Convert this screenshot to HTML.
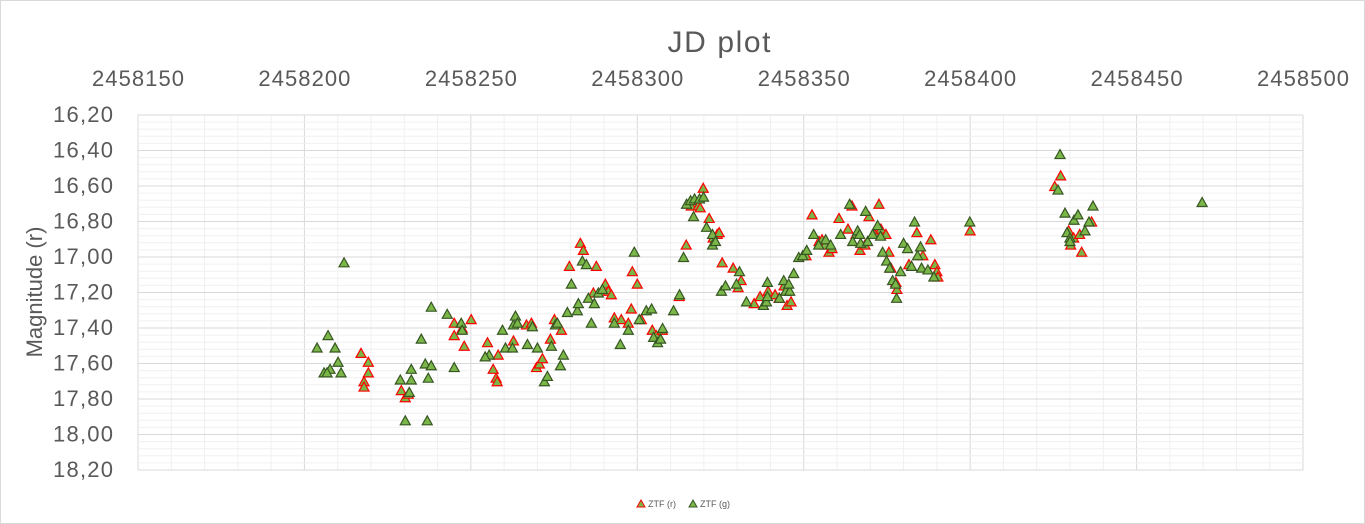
<!DOCTYPE html>
<html><head><meta charset="utf-8"><style>
body{margin:0;background:#fff;}
svg{display:block;font-family:"Liberation Sans",sans-serif;}
</style></head><body>
<svg id="chart" width="1365" height="524">
<rect x="0.5" y="0.5" width="1364" height="523" fill="#fff" stroke="#d9d9d9"/>
<text x="719" y="52" text-anchor="middle" font-size="30" textLength="103" fill="#595959">JD plot</text>
<text transform="translate(42,292) rotate(-90)" text-anchor="middle" font-size="22" fill="#595959">Magnitude (r)</text>
<g id="grid"></g><g id="xt"></g><g id="yt"></g><g id="marks"></g>
<g>
<polygon points="637,507 641,500 645,507" fill="#7ab648" stroke="#ff0000" stroke-width="1"/>
<text x="648" y="507" font-size="9" fill="#595959">ZTF (r)</text>
<polygon points="689,507 693,500 697,507" fill="#7ab648" stroke="#375623" stroke-width="1"/>
<text x="700" y="507" font-size="9" fill="#595959">ZTF (g)</text>
</g>
</svg>
<script>
const xTicks=[2458150,2458200,2458250,2458300,2458350,2458400,2458450,2458500];
const yTicks=["16,20","16,40","16,60","16,80","17,00","17,20","17,40","17,60","17,80","18,00","18,20"];
const rDays=[217.0,217.9,217.9,219.2,219.2,229.1,230.3,231.2,245.0,245.0,247.4,248.0,250.1,255.0,256.7,257.6,257.9,258.2,262.8,266.7,268.2,269.7,270.6,271.5,273.9,275.1,277.2,279.6,282.9,283.8,286.8,287.7,290.4,291.3,292.2,293.1,295.2,297.3,298.2,298.5,300.0,301.2,304.5,305.7,307.5,312.6,314.7,316.2,318.3,319.8,318.9,321.6,322.8,324.0,324.6,325.5,328.8,330.3,331.2,335.1,336.9,339.3,341.4,342.6,344.1,345.0,346.2,350.7,352.5,354.6,355.5,356.4,357.6,358.5,360.6,363.3,364.5,365.7,366.9,368.4,369.6,371.4,372.6,373.2,374.7,375.6,376.2,377.7,378.0,381.6,384.0,385.8,388.2,389.4,390.0,390.3,400.0,425.4,427.2,429.6,430.2,431.1,432.9,433.5,436.5];
const rMag=[17.54,17.70,17.73,17.59,17.65,17.75,17.79,17.77,17.37,17.44,17.40,17.50,17.35,17.48,17.63,17.68,17.70,17.55,17.47,17.38,17.37,17.62,17.60,17.57,17.46,17.35,17.41,17.05,16.92,16.96,17.20,17.05,17.15,17.19,17.21,17.34,17.35,17.37,17.29,17.08,17.15,17.35,17.41,17.44,17.41,17.22,16.93,16.71,16.71,16.61,16.72,16.78,16.89,16.87,16.86,17.03,17.06,17.17,17.13,17.26,17.22,17.19,17.21,17.23,17.16,17.27,17.25,16.99,16.76,16.91,16.90,16.93,16.97,16.95,16.78,16.84,16.71,16.87,16.96,16.93,16.77,16.87,16.70,16.84,16.87,16.97,17.06,17.14,17.18,17.04,16.86,16.99,16.90,17.04,17.08,17.11,16.85,16.60,16.54,16.85,16.93,16.89,16.87,16.97,16.80];
const gDays=[203.8,205.9,207.1,207.7,206.8,209.2,210.1,211.0,211.9,228.8,230.3,232.1,232.1,231.5,235.1,236.3,237.2,236.9,238.1,238.1,242.9,245.0,247.1,247.4,255.5,254.3,259.5,260.4,262.5,262.8,263.4,264.0,267.0,268.5,270.0,272.1,273.0,274.2,275.4,276.0,276.9,277.8,279.0,280.2,282.0,282.3,283.5,284.7,285.3,286.2,287.1,288.3,289.5,293.1,294.9,297.3,299.1,300.6,302.7,304.3,304.9,306.1,307.0,307.6,310.9,312.7,313.9,314.8,316.0,316.9,317.2,318.7,319.9,320.8,322.6,322.6,323.5,325.3,326.5,329.8,330.7,332.8,337.9,338.8,339.1,339.1,342.7,344.0,344.6,345.8,345.5,347.0,348.5,349.7,350.9,353.0,354.5,356.6,358.1,361.1,363.8,364.7,366.2,366.8,367.1,368.6,369.2,370.7,372.2,373.1,373.7,374.9,375.8,376.7,377.6,377.9,379.1,380.0,381.2,382.4,383.3,384.2,385.1,385.4,387.3,389.1,399.9,427.0,426.4,428.5,429.1,430.0,430.0,431.2,432.4,434.5,435.7,436.9,469.7];
const gMag=[17.51,17.65,17.44,17.63,17.65,17.51,17.59,17.65,17.03,17.69,17.92,17.69,17.63,17.76,17.46,17.60,17.68,17.92,17.28,17.61,17.32,17.62,17.37,17.41,17.55,17.56,17.41,17.51,17.51,17.38,17.33,17.37,17.49,17.39,17.51,17.70,17.67,17.50,17.38,17.37,17.61,17.55,17.31,17.15,17.30,17.26,17.02,17.04,17.23,17.37,17.26,17.20,17.18,17.37,17.49,17.41,16.97,17.35,17.30,17.29,17.45,17.48,17.46,17.40,17.30,17.21,17.00,16.70,16.68,16.77,16.67,16.67,16.66,16.83,16.93,16.87,16.91,17.19,17.16,17.15,17.08,17.25,17.27,17.25,17.22,17.14,17.23,17.13,17.19,17.19,17.15,17.09,17.00,16.99,16.96,16.87,16.93,16.90,16.93,16.87,16.70,16.91,16.85,16.87,16.92,16.74,16.91,16.87,16.82,16.88,16.97,17.02,17.06,17.13,17.15,17.23,17.08,16.92,16.95,17.05,16.80,16.99,16.94,17.06,17.07,17.11,16.80,16.42,16.62,16.75,16.86,16.89,16.91,16.79,16.76,16.85,16.80,16.71,16.69];

const L=138,R=1303,T=115,B=470;
const xMin=2458150,xMax=2458500,yMin=16.2,yMax=18.2;
const X=v=>L+(v-xMin)/(xMax-xMin)*(R-L);
const Y=v=>T+(v-yMin)/(yMax-yMin)*(B-T);
const NS="http://www.w3.org/2000/svg";
function mk(tag,attrs,parent){const e=document.createElementNS(NS,tag);for(const k in attrs)e.setAttribute(k,attrs[k]);parent.appendChild(e);return e;}
const grid=document.getElementById('grid');
for(let d=xMin;d<=xMax;d+=10){
  const l=mk('line',{x1:X(d),x2:X(d),y1:T,y2:B,stroke:(d-xMin)%50===0?'#d9d9d9':'#f0f0f0','stroke-width':1},grid);
  
  
}
for(let i=0;i<=50;i++){
  const v=yMin+i*0.04;
  const l=mk('line',{x1:L,x2:R,y1:Y(v),y2:Y(v),stroke:i%5===0?'#d9d9d9':'#f0f0f0','stroke-width':1},grid);
  
  
}
const xt=document.getElementById('xt');
xTicks.forEach(v=>{
  const t=mk('text',{x:X(v),y:86,'text-anchor':'middle','font-size':22,textLength:92,fill:'#595959'},xt);
  t.textContent=v;
  
  
});
const yt=document.getElementById('yt');
yTicks.forEach((s,i)=>{
  const t=mk('text',{x:113,y:Y(yMin+i*0.2)+7,'text-anchor':'end','font-size':22,textLength:60,fill:'#595959'},yt);
  t.textContent=s;
  
  
});
const marks=document.getElementById('marks');
function tri(d,m,stroke,name){
  const x=X(2458000+d),y=Y(m);
  const p=mk('polygon',{points:`${x-5},${y+4.5} ${x},${y-4.5} ${x+5},${y+4.5}`,fill:'#7ab648',stroke:stroke,'stroke-width':1.2},marks);
  
  
}
rDays.forEach((d,i)=>tri(d,rMag[i],'#ff0000','ztf-r-point'));
gDays.forEach((d,i)=>tri(d,gMag[i],'#375623','ztf-g-point'));
</script>
</body></html>
